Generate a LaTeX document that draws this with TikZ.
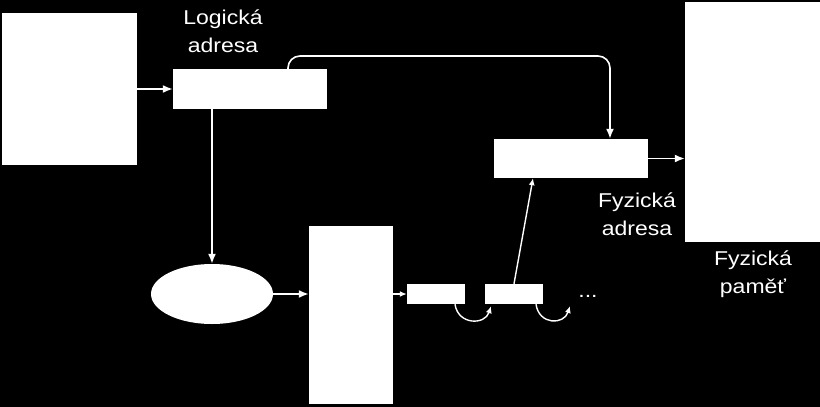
\documentclass[tikz,border=0pt]{standalone}
\usepackage{fontspec}
\setmainfont{Liberation Sans}[FakeStretch=1.15]
\usetikzlibrary{arrows.meta,shapes.geometric}

\begin{document}
\begin{tikzpicture}[x=1pt,y=-1pt,
        box/.style={fill=white,draw=none,inner sep=0pt},
        conn/.style={draw=white,line width=1.6pt,-{Latex[length=10pt,width=8pt]}},
        smallconn/.style={draw=white,line width=1.4pt,-{Latex[length=7pt,width=6pt]}},
        lab/.style={text=white,align=center,inner sep=0pt,font=\fontsize{20}{28}\selectfont}]
            \fill[black] (0,0) rectangle (820,407);
            \useasboundingbox (0,0) rectangle (820,407);
            % boxes
            \node[box,minimum width=135pt,minimum height=152pt] (cpu) at (69.5,89) {};
            \node[box,minimum width=154pt,minimum height=40pt] (logical) at (250,89) {};
            \node[box,minimum width=154pt,minimum height=39pt] (physaddr) at (571,158.5) {};
            \node[box,minimum width=135pt,minimum height=240pt] (memory) at (752.5,122) {};
            \node[box,ellipse,minimum width=122pt,minimum height=60pt] (hashfn) at (212,294) {};
            \node[box,minimum width=84pt,minimum height=178pt] (table) at (351,315) {};
            \node[box,minimum width=58pt,minimum height=20pt] (entry1) at (436,294) {};
            \node[box,minimum width=58pt,minimum height=20pt] (entry2) at (514,294) {};
            \coordinate (bend) at (610,56);
            \coordinate (next) at (570,306);
            % labels (base = last line)
            \node[lab,anchor=base] (lablogical) at (223,52) {Logická\\adresa};
            \node[lab,anchor=base] (labphys) at (637,235) {Fyzická\\adresa};
            \node[lab,anchor=base] (labmemory) at (753,293) {Fyzická\\paměť};
            \node[lab,anchor=base] (dots) at (588,297) {...};
            % connectors
            \draw[conn] (cpu) -- (logical);
            \draw[conn,rounded corners=12pt] ([xshift=38pt]logical.north) |- (bend) -- ([xshift=39pt]physaddr.north);
            \draw[conn] (hashfn |- logical.south) -- (hashfn);
            \draw[conn] (hashfn.east) -- (hashfn.east -| table.west);
            \draw[smallconn] (entry1 -| table.east) -- (entry1);
            \draw[smallconn] ([xshift=19pt]entry1.south) .. controls +(3,21) and +(-6,19) .. ([xshift=-23pt,yshift=-2pt]entry2.south);
            \draw[smallconn] ([xshift=22pt]entry2.south) .. controls +(3,21) and +(-6,19) .. (next);
            \draw[smallconn] (entry2.north) -- ([xshift=-38pt]physaddr.south);
            \draw[conn] (physaddr) -- (physaddr -| memory.west);
        \end{tikzpicture}
\end{document}
